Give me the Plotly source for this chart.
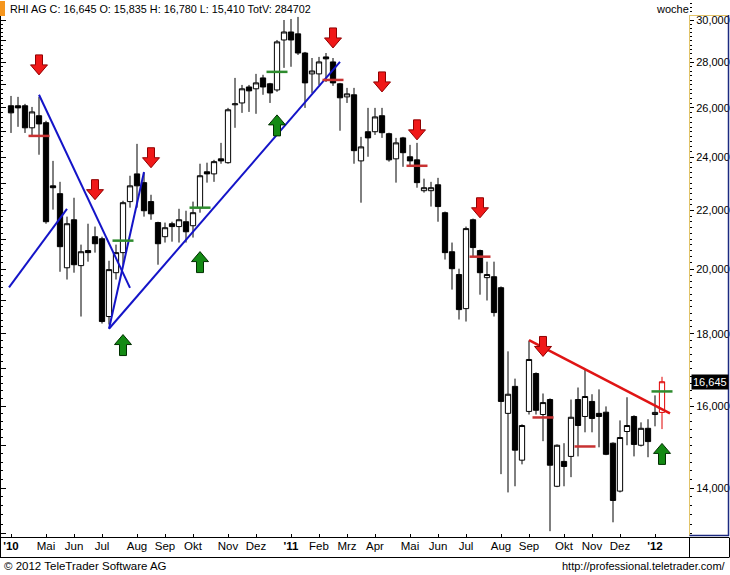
import numpy as np
import pandas as pd
import plotly.graph_objects as go

# ---------------- data ----------------
weeks = pd.date_range("2010-04-02", periods=94, freq="7D")

opens = [26090, 26090, 26090, 25170, 25670, 25380, 22900, 22610, 20040, 21670,
         20110, 20610, 21080, 21010, 18510, 19880, 20540, 22320, 23350, 23020,
         22320, 21570, 21080, 21530, 21430, 21600, 21460, 22100, 23430, 23350,
         23930, 23780, 26130, 26210, 26900, 26820, 27300, 27040, 26770, 29040,
         29420, 29330, 28430, 27480, 27480, 28250, 28020, 27040, 26470, 26560,
         23850, 25010, 25010, 25670, 24930, 23930, 24760, 24010, 23890, 22720,
         22720, 22940, 21920, 20570, 19820, 18750, 21670, 20610, 19720, 19750,
         19400, 15810, 16520, 14650, 15860, 16870, 15780, 16170, 14040, 14620,
         14740, 16170, 15730, 16120, 15810, 15840, 15060, 13930, 15350, 15730,
         15010, 15430, 15780, 15835]
highs = [26510, 26470, 26170, 26040, 26470, 25460, 23850, 23050, 21780, 22460,
         20810, 21530, 21430, 21080, 20270, 20810, 22350, 23280, 24520, 23390,
         22570, 21600, 21570, 21600, 22060, 21990, 22320, 23740, 23780, 23890,
         24560, 26000, 27300, 26990, 26990, 27480, 27440, 27080, 29040, 30000,
         30050, 30150, 28480, 28200, 28250, 28430, 28200, 27080, 26860, 26860,
         24800, 26000, 26000, 26000, 24970, 24760, 24800, 24480, 24560, 23170,
         23050, 23200, 21960, 20880, 20010, 21430, 21710, 20640, 20240, 20240,
         19440, 17490, 16730, 15530, 17800, 16900, 16330, 16200, 15030, 15060,
         16170, 16490, 16980, 16310, 16440, 15990, 15080, 15630, 16230, 15760,
         15580, 15660, 16280, 16780]
lows = [24960, 25210, 24960, 24800, 24090, 21530, 22030, 19910, 19660, 19880,
        18510, 20240, 20540, 18300, 18270, 19660, 20140, 22100, 22100, 21780,
        21670, 20140, 20880, 20910, 20880, 20880, 21050, 21920, 23020, 23050,
        23740, 23740, 25170, 25790, 25830, 25750, 26560, 26210, 26690, 27750,
        27800, 28340, 26000, 26640, 26990, 27120, 26950, 25050, 26210, 23740,
        22280, 24010, 24880, 24760, 23820, 23020, 23620, 23620, 22830, 22650,
        22140, 21600, 20310, 19340, 18420, 18360, 20410, 19180, 19000, 18510,
        14320, 13900, 14040, 14550, 15780, 15780, 15110, 13050, 14020, 14040,
        14250, 14740, 15330, 15330, 14960, 14770, 13240, 13900, 15010, 14740,
        14980, 14720, 15480, 15410]
closes = [25790, 26000, 25170, 25830, 25330, 21600, 22830, 20740, 21530, 20140,
          20570, 20540, 20840, 18360, 19980, 20540, 22280, 22900, 22900, 21990,
          21880, 20840, 21390, 21430, 21670, 21250, 21920, 23280, 23350, 23820,
          23850, 25920, 26170, 26820, 26730, 27080, 26900, 26640, 28950, 29420,
          29040, 28430, 27080, 27610, 28020, 28160, 27080, 26430, 26600, 24250,
          24400, 24760, 25620, 24970, 23890, 24560, 24170, 23850, 23020, 22830,
          22830, 22140, 20540, 20010, 18720, 21360, 20710, 19880, 19820, 18630,
          16120, 16310, 14890, 15500, 17260, 15890, 16090, 14530, 15010, 14500,
          15710, 15500, 16250, 15680, 15730, 14790, 13720, 15200, 15500, 15030,
          15430, 15100, 15835, 16645]

# sell / buy signal arrows (tip price)
sell_idx = [4, 12, 20, 46, 53, 58, 67, 76]
sell_px = [27435, 22390, 23585, 28665, 26685, 24680, 21740, 17345]
buy_idx = [16, 27, 38, 93]
buy_px = [17975, 20575, 25705, 15055]

# stop marks
stop_red_idx = [4, 46, 58, 67, 76, 82]
stop_red_px = [24840, 27210, 23660, 20405, 15705, 14980]
stop_grn_idx = [16, 27, 38, 93]
stop_grn_px = [20945, 22100, 27570, 16385]

# trend lines (date, price) pairs
blue_lines = [
    (["2010-04-30", "2010-07-30"], [26560, 19395]),
    (["2010-03-31", "2010-05-28"], [19410, 22060]),
    (["2010-07-09", "2010-08-13"], [18145, 23420]),
    (["2010-07-09", "2011-02-25"], [18145, 28020]),
]
red_line = (["2011-09-02", "2012-01-21"], [17810, 15810])

tick_dates = ["2010-04-02", "2010-05-07", "2010-06-04", "2010-07-02", "2010-08-06",
              "2010-09-03", "2010-10-01", "2010-11-05", "2010-12-03", "2011-01-07",
              "2011-02-04", "2011-03-04", "2011-04-01", "2011-05-06", "2011-06-03",
              "2011-07-01", "2011-08-05", "2011-09-02", "2011-10-07", "2011-11-04",
              "2011-12-02", "2012-01-06"]
tick_text = ["<b>'10</b>", "Mai", "Jun", "Jul", "Aug", "Sep", "Okt", "Nov", "Dez",
             "<b>'11</b>", "Feb", "Mrz", "Apr", "Mai", "Jun", "Jul", "Aug", "Sep",
             "Okt", "Nov", "Dez", "<b>'12</b>"]

y_major = list(range(13000, 31001, 1000))
y_labels = [f"{v:,}" if v % 2000 == 0 else "" for v in y_major]
y_minor = list(range(13000, 31001, 200))

# ---------------- figure ----------------
W, H = 730, 575
ML, MR, MT, MB = 1, 41, 0, 38
PW, PH = W - ML - MR, H - MT - MB

def pxx(x):
    return (x - ML) / PW

def pxy(y):
    return (H - MB - y) / PH

FONT = "Arial, Liberation Sans, sans-serif"

fig = go.Figure()

fig.add_trace(go.Candlestick(
    x=weeks[:-1], open=opens[:-1], high=highs[:-1], low=lows[:-1], close=closes[:-1],
    increasing=dict(line=dict(color="black", width=1), fillcolor="white"),
    decreasing=dict(line=dict(color="black", width=1), fillcolor="black"),
    whiskerwidth=0, showlegend=False, hoverinfo="skip"))
fig.add_trace(go.Candlestick(
    x=weeks[-1:], open=opens[-1:], high=highs[-1:], low=lows[-1:], close=closes[-1:],
    increasing=dict(line=dict(color="#e00000", width=1), fillcolor="white"),
    decreasing=dict(line=dict(color="#e00000", width=1), fillcolor="white"),
    whiskerwidth=0, showlegend=False, hoverinfo="skip"))

for xs, ys in blue_lines:
    fig.add_trace(go.Scatter(x=xs, y=ys, mode="lines",
                             line=dict(color="#1414c8", width=2),
                             showlegend=False, hoverinfo="skip"))
fig.add_trace(go.Scatter(x=red_line[0], y=red_line[1], mode="lines",
                         line=dict(color="#e01414", width=2.5),
                         showlegend=False, hoverinfo="skip"))

fig.add_trace(go.Scatter(x=[weeks[i] for i in stop_red_idx], y=stop_red_px, mode="markers",
                         marker=dict(symbol="line-ew", size=15,
                                     line=dict(color="#c83232", width=2.5)),
                         showlegend=False, hoverinfo="skip"))
fig.add_trace(go.Scatter(x=[weeks[i] for i in stop_grn_idx], y=stop_grn_px, mode="markers",
                         marker=dict(symbol="line-ew", size=15,
                                     line=dict(color="#2e8b2e", width=2.5)),
                         showlegend=False, hoverinfo="skip"))

# left mirrored tick axis
fig.add_trace(go.Scatter(x=[], y=[], yaxis="y2", showlegend=False, hoverinfo="skip"))

shapes = []
down_path = "M0,0 L-8.5,10 L-3.5,10 L-3.5,20 L3.5,20 L3.5,10 L8.5,10 Z"
up_path = "M0,0 L-8.5,-10 L-3.5,-10 L-3.5,-21 L3.5,-21 L3.5,-10 L8.5,-10 Z"
for i, p in zip(sell_idx, sell_px):
    shapes.append(dict(type="path", xref="x", yref="y", xsizemode="pixel", ysizemode="pixel",
                       xanchor=weeks[i].strftime("%Y-%m-%d"), yanchor=p, path=down_path,
                       fillcolor="#f01818", line=dict(color="#900000", width=1)))
for i, p in zip(buy_idx, buy_px):
    shapes.append(dict(type="path", xref="x", yref="y", xsizemode="pixel", ysizemode="pixel",
                       xanchor=weeks[i].strftime("%Y-%m-%d"), yanchor=p, path=up_path,
                       fillcolor="#138a13", line=dict(color="#003000", width=1)))

def pline(x0, y0, x1, y1, color, width=1):
    shapes.append(dict(type="line", xref="paper", yref="paper",
                       x0=pxx(x0), y0=pxy(y0), x1=pxx(x1), y1=pxy(y1),
                       line=dict(color=color, width=width)))

# orange marker
shapes.append(dict(type="rect", xref="paper", yref="paper", x0=pxx(0), x1=pxx(5),
                   y0=pxy(16), y1=pxy(1), fillcolor="#f5961e", line=dict(width=0)))
pline(0.5, 16, 0.5, 557, "black")
pline(0, 537.5, 729, 537.5, "black")
pline(0, 557.5, 729, 557.5, "black")
pline(689.5, 537.5, 689.5, 557.5, "black")
pline(729.5, 537.5, 729.5, 557.5, "black")
# right axis panel
pline(689.5, 15, 689.5, 536, "#e2c46a")
pline(689.5, 15.5, 729, 15.5, "#e2c46a")
pline(728.5, 15, 728.5, 536, "#1c2a80", 1.5)
pline(689.5, 535.5, 729, 535.5, "#1c2a80", 1.5)

annotations = [
    dict(xref="paper", yref="paper", x=pxx(8), y=pxy(9), xanchor="left", yanchor="middle",
         text="RHI AG C: 16,645 O: 15,835 H: 16,780 L: 15,410 TotV: 284702",
         showarrow=False, font=dict(family=FONT, size=10.8, color="black")),
    dict(xref="paper", yref="paper", x=pxx(672), y=pxy(9), xanchor="center", yanchor="middle",
         text="woche", showarrow=False, font=dict(family=FONT, size=11, color="black")),
    dict(xref="paper", yref="paper", x=pxx(2), y=pxy(566), xanchor="left", yanchor="middle",
         text="© 2012 TeleTrader Software AG", showarrow=False,
         font=dict(family=FONT, size=11.5, color="black")),
    dict(xref="paper", yref="paper", x=pxx(728), y=pxy(566), xanchor="right", yanchor="middle",
         text="http://professional.teletrader.com/", showarrow=False,
         font=dict(family=FONT, size=11, color="black")),
    dict(xref="paper", yref="y", x=pxx(691), y=float(np.log10(closes[-1])),
         xanchor="left", yanchor="middle", text=f"{closes[-1]:,}", showarrow=False,
         bgcolor="black", borderpad=1, font=dict(family=FONT, size=11, color="white")),
]

yr = [np.log10(12927), np.log10(30993)]
fig.update_layout(
    width=W, height=H, margin=dict(l=ML, r=MR, t=MT, b=MB),
    paper_bgcolor="white", plot_bgcolor="white",
    boxgap=0.25, boxgroupgap=0,
    shapes=shapes, annotations=annotations,
    font=dict(family=FONT, size=11, color="black"),
    xaxis=dict(type="date", range=["2010-03-23", "2012-02-09"],
               rangeslider=dict(visible=False),
               tickmode="array", tickvals=tick_dates, ticktext=tick_text,
               ticks="inside", ticklen=3, tickcolor="black",
               tickfont=dict(family=FONT, size=11.5, color="black"),
               showgrid=False, zeroline=False, showline=False),
    yaxis=dict(type="log", range=yr, side="right",
               tickmode="array", tickvals=y_major, ticktext=y_labels,
               ticks="outside", ticklen=4, tickcolor="black",
               minor=dict(tickvals=y_minor, ticks="outside", ticklen=2, tickcolor="black"),
               tickfont=dict(family=FONT, size=11, color="black"),
               showgrid=False, zeroline=False, showline=False),
    yaxis2=dict(type="log", range=yr, side="left", overlaying="y", anchor="x",
                tickmode="array", tickvals=y_major, showticklabels=False,
                ticks="inside", ticklen=5, tickcolor="black",
                minor=dict(tickvals=y_minor, ticks="inside", ticklen=2, tickcolor="black"),
                showgrid=False, zeroline=False, showline=False),
)

fig.write_html("out.html", config={"displayModeBar": False},
               post_script="document.body.style.margin='0';document.body.style.padding='0';")
